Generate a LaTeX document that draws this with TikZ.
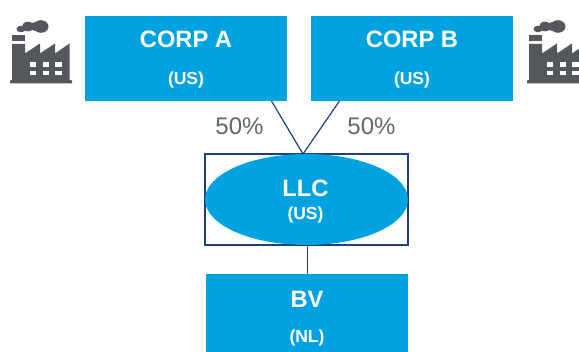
\documentclass[tikz,border=0pt]{standalone}
\usepackage{fontspec}
\setmainfont{Liberation Sans}
\usetikzlibrary{shapes.geometric}
\definecolor{corpblue}{HTML}{00A3E0}
\definecolor{linenavy}{HTML}{1F3F7F}
\definecolor{factorygrey}{HTML}{54585A}
\definecolor{pctgrey}{HTML}{666666}
\tikzset{
  x=1pt,y=-1pt,
  bluebox/.style={fill=corpblue,draw=none,rectangle,inner sep=0pt,outer sep=0pt,anchor=north west},
  titletext/.style={text=white,font=\fontsize{23.7}{25}\selectfont\bfseries,inner sep=0pt},
  subtext/.style={text=white,font=\fontsize{17.5}{20}\selectfont\bfseries,inner sep=0pt},
  pct/.style={text=pctgrey,font=\fontsize{24}{26}\selectfont,inner sep=0pt},
  conn/.style={draw=linenavy,line width=1.2pt},
  factory/.pic={
    \fill[factorygrey] (10,83.5) -- (10,80.5) -- (12,80) -- (12,44) -- (25,44) -- (25,53.5) -- (40,43.5) -- (40,53.5) -- (55,43.5) -- (55,53.5) -- (69.5,43.5) -- (69.5,80) -- (72,80.5) -- (72,83.5) -- cycle;
    \fill[factorygrey] (12,35.5) rectangle (25,41.5);
    \foreach \wx in {29.5,42.5,55}{
      \foreach \wy in {62.5,71}{
        \fill[white] (\wx,\wy) rectangle +(6.8,4.3);
      }
    }
    \fill[factorygrey] (21,29) ellipse [x radius=4.5,y radius=3.3];
    \fill[factorygrey] (28,26.5) ellipse [x radius=6,y radius=4.8];
    \fill[factorygrey] (35,26.5) ellipse [x radius=5,y radius=4.5];
    \fill[factorygrey] (41,26.5) ellipse [x radius=7.5,y radius=6.3];
  }
}
\begin{document}
\begin{tikzpicture}
\useasboundingbox (0,0) rectangle (579,352);
\clip (0,0) rectangle (579,352);
\pic at (0,0) {factory};
\pic at (517,0) {factory};
\node[bluebox,minimum width=202pt,minimum height=85pt] (corpa) at (85,16) {};
\node[bluebox,minimum width=202pt,minimum height=85pt] (corpb) at (311,16) {};
\node[titletext] (corpatitle) at (186,39.5) {CORP A};
\node[subtext] (corpasub) at (186,80) {(US)};
\node[titletext] (corpbtitle) at (412,39.5) {CORP B};
\node[subtext] (corpbsub) at (412,80) {(US)};
\node[rectangle,draw=linenavy,line width=1.2pt,minimum width=203pt,minimum height=91pt,inner sep=0pt,outer sep=0pt] (frame) at (306.5,199.5) {};
\node[ellipse,fill=corpblue,minimum width=203pt,minimum height=91pt,inner sep=0pt,outer sep=0pt] (llc) at (306.5,199.5) {};
\coordinate (joint) at (303,154);
\coordinate (afoot) at (271.5,101);
\coordinate (bfoot) at (339.5,101);
\draw[conn] (afoot) -- (joint);
\draw[conn] (bfoot) -- (joint);
\node[titletext] (llctitle) at (305.5,188.5) {LLC};
\node[subtext] (llcsub) at (305.5,214.5) {(US)};
\node[bluebox,minimum width=202pt,minimum height=78pt] (bv) at (206,274) {};
\node[titletext] (bvtitle) at (307,299.5) {BV};
\node[subtext] (bvsub) at (307,338) {(NL)};
\draw[conn] (bv.north -| 307.5,0) -- (307.5,245);
\node[pct] (pcta) at (239.5,126) {50\%};
\node[pct] (pctb) at (371.5,126) {50\%};
\end{tikzpicture}
\end{document}
